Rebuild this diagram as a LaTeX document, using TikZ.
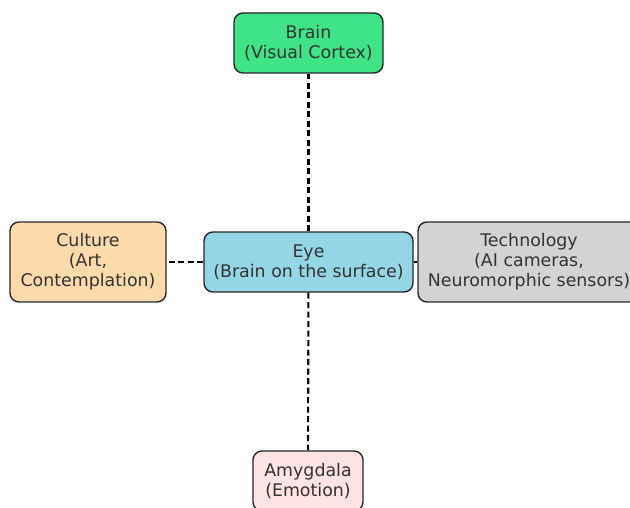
\documentclass[tikz,border=0pt]{standalone}
\usepackage{fontspec}
\setmainfont{DejaVu Sans}
\usepackage{tikz}
\usetikzlibrary{
    positioning,
    arrows.meta
}
\definecolor{brainfill}{HTML}{3EE485}
\definecolor{eyefill}{HTML}{94D6E6}
\definecolor{culturefill}{HTML}{FDDAAC}
\definecolor{techfill}{HTML}{D3D3D3}
\definecolor{amygfill}{HTML}{FFE4E1}
\definecolor{textgray}{HTML}{333333}
\tikzset{
    area/.style={
        draw=black!85,
        line width=1.4pt,
        rounded corners=9pt,
        inner sep=0pt,
        align=center,
        text=textgray,
        font=\fontsize{17.4}{20}\selectfont
    },
    link/.style={
        line width=2.1pt,
        dash pattern=on 6pt off 3.5pt
    }
}

\begin{document}
\begin{tikzpicture}[
    x=1pt,
    y=1pt
]
    \useasboundingbox (0,0) rectangle (630,507);
    \clip (0,0) rectangle (630,507);

    % Nodos
    \node[area, fill=brainfill, minimum width=149pt, minimum height=60pt]
        (brain) at (308.5,464) {Brain\\(Visual Cortex)};
    \node[area, fill=eyefill, minimum width=209pt, minimum height=60pt]
        (eye) at (308.5,245) {Eye\\(Brain on the surface)};
    \node[area, fill=culturefill, minimum width=156pt, minimum height=80pt]
        (culture) at (88,245) {Culture\\(Art,\\Contemplation)};
    \node[area, fill=techfill, minimum width=222pt, minimum height=80pt]
        (tech) at (529,245) {Technology\\(AI cameras,\\Neuromorphic sensors)};
    \node[area, fill=amygfill, minimum width=110pt, minimum height=60pt]
        (amyg) at (308,26) {Amygdala\\(Emotion)};

    % Conexiones
    \path[link]
        (eye)
            edge (brain)
            edge (amyg)
            edge (culture)
            edge (tech);

\end{tikzpicture}
\end{document}
